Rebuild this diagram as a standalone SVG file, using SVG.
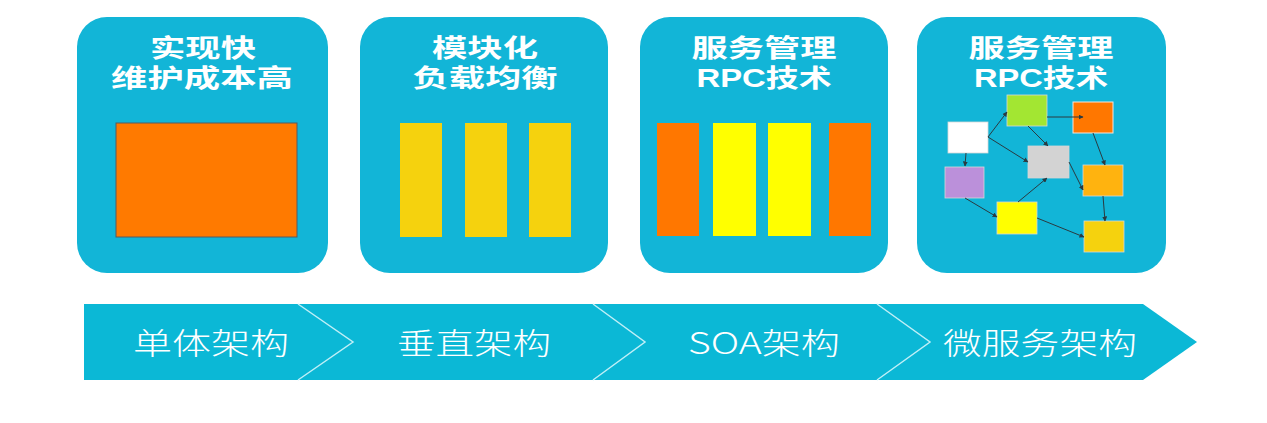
<svg xmlns="http://www.w3.org/2000/svg" width="1267" height="423" viewBox="0 0 1267 423">
<defs>
<style>
.card{fill:#12B5D7;}
.title{fill:#fff;font-family:"Liberation Sans","Noto Sans CJK SC",sans-serif;font-weight:bold;font-size:25px;text-anchor:middle;}
.band{fill:#0BB8D6;}
.sep{fill:none;stroke:#BFEFF7;stroke-width:1.5;}
.lbl{fill:#fff;font-family:"Noto Sans CJK SC","Noto Sans",sans-serif;font-weight:300;font-size:30px;text-anchor:middle;}
.box{stroke:#d8d8d8;stroke-width:0.8;}
.link{fill:none;stroke:#2a3a40;stroke-width:1;marker-end:url(#ah);}
</style>
<marker id="ah" viewBox="0 0 10 10" refX="9" refY="5" markerWidth="5" markerHeight="5" orient="auto">
<path d="M0,0 L10,5 L0,10 z" fill="#2a3a40"/>
</marker>
</defs>
<rect width="1267" height="423" fill="#fff"/>

<g id="card1">
<rect class="card" x="77" y="17" width="251" height="256" rx="30"/>
<text class="title" x="203" y="57" textLength="106" lengthAdjust="spacingAndGlyphs">实现快</text>
<text class="title" x="202" y="87" textLength="182" lengthAdjust="spacingAndGlyphs">维护成本高</text>
<rect x="116" y="123" width="181" height="114" fill="#FF7A00" stroke="#5a5a5a" stroke-width="1"/>
</g>

<g id="card2">
<rect class="card" x="360" y="17" width="248" height="256" rx="30"/>
<text class="title" x="485" y="57" textLength="106" lengthAdjust="spacingAndGlyphs">模块化</text>
<text class="title" x="485" y="87" textLength="145" lengthAdjust="spacingAndGlyphs">负载均衡</text>
<rect x="400" y="123" width="42" height="114" fill="#F5D20E"/>
<rect x="465" y="123" width="42" height="114" fill="#F5D20E"/>
<rect x="529" y="123" width="42" height="114" fill="#F5D20E"/>
</g>

<g id="card3">
<rect class="card" x="640" y="17" width="248" height="256" rx="30"/>
<text class="title" x="764" y="57" textLength="145" lengthAdjust="spacingAndGlyphs">服务管理</text>
<text class="title" x="764" y="87" textLength="135" lengthAdjust="spacingAndGlyphs">RPC技术</text>
<rect x="657" y="123" width="42" height="113" fill="#FF7700"/>
<rect x="713" y="123" width="43" height="113" fill="#FFFF00"/>
<rect x="768" y="123" width="43" height="113" fill="#FFFF00"/>
<rect x="829" y="123" width="42" height="113" fill="#FF7700"/>
</g>

<g id="card4">
<rect class="card" x="917" y="17" width="249" height="256" rx="30"/>
<text class="title" x="1041" y="57" textLength="145" lengthAdjust="spacingAndGlyphs">服务管理</text>
<text class="title" x="1041" y="87" textLength="134" lengthAdjust="spacingAndGlyphs">RPC技术</text>
<rect id="b-white" class="box" x="948" y="122" width="40" height="31" fill="#FFFFFF"/>
<rect id="b-green" class="box" x="1007" y="95" width="40" height="31" fill="#A3E632"/>
<rect id="b-orange" x="1073" y="102" width="40" height="31" fill="#FF7700" stroke="#f4e6dc" stroke-width="1"/>
<rect id="b-gray" class="box" x="1028" y="146" width="41" height="32" fill="#D3D3D3"/>
<rect id="b-purple" class="box" x="945" y="167" width="39" height="31" fill="#BB90DA"/>
<rect id="b-amber" class="box" x="1083" y="165" width="40" height="31" fill="#FFB30F"/>
<rect id="b-yellow" class="box" x="997" y="202" width="40" height="32" fill="#FFFF00"/>
<rect id="b-gold" class="box" x="1084" y="221" width="40" height="31" fill="#F5D20E"/>
</g>

<g id="connectors">
<line class="link" x1="988" y1="137" x2="1007" y2="112"/>
<line class="link" x1="988" y1="137" x2="1028" y2="162"/>
<line class="link" x1="966" y1="153" x2="965" y2="166"/>
<line class="link" x1="1028" y1="126" x2="1048" y2="146"/>
<line class="link" x1="1047" y1="117" x2="1083" y2="117"/>
<line class="link" x1="1093" y1="133" x2="1105" y2="165"/>
<line class="link" x1="1069" y1="162" x2="1083" y2="190"/>
<line class="link" x1="1103" y1="196" x2="1105" y2="221"/>
<line class="link" x1="965" y1="198" x2="997" y2="217"/>
<line class="link" x1="1018" y1="202" x2="1047" y2="178"/>
<line class="link" x1="1037" y1="218" x2="1084" y2="237"/>
</g>

<g id="timeline">
<path class="band" d="M84,304 L1143,304 L1197,342 L1143,380 L84,380 Z"/>
<path class="sep" d="M298,304 L353,342 L298,380"/>
<path class="sep" d="M593,304 L645,342 L593,380"/>
<path class="sep" d="M877,304 L930,342 L877,380"/>
<text class="lbl" x="211" y="354" textLength="156" lengthAdjust="spacingAndGlyphs">单体架构</text>
<text class="lbl" x="474" y="354" textLength="154" lengthAdjust="spacingAndGlyphs">垂直架构</text>
<text class="lbl" x="764" y="354" textLength="152" lengthAdjust="spacingAndGlyphs">SOA架构</text>
<text class="lbl" x="1040" y="354" textLength="194" lengthAdjust="spacingAndGlyphs">微服务架构</text>
</g>
</svg>
